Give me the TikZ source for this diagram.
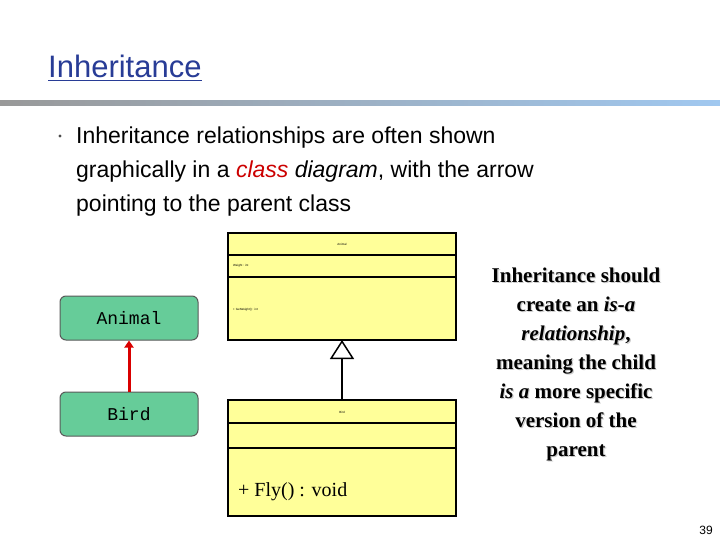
\documentclass[tikz,border=0pt]{standalone}
\usepackage{fontspec}
\setmainfont{Liberation Sans}
\newfontfamily\serifb{Liberation Serif}
\newfontfamily\monof{Liberation Mono}
\usetikzlibrary{arrows.meta}
\definecolor{titleblue}{RGB}{40,60,150}
\definecolor{umlyel}{RGB}{255,255,153}
\definecolor{grn}{RGB}{102,204,153}
\definecolor{lblue}{RGB}{160,200,240}
\tikzset{
  umlbox/.style={draw=black,line width=1.5pt,fill=umlyel},
  grnbox/.style={draw=gray!70!black,line width=1pt,fill=grn,rounded corners=6pt,minimum width=138pt,minimum height=44pt,font=\monof\fontsize{18}{18}\selectfont},
  tiny/.style={font=\fontsize{3}{3}\selectfont,inner sep=0pt},
  rtext/.style={align=center,font=\serifb\bfseries\fontsize{21}{29}\selectfont}
}
\newcommand\rtcontent{Inheritance should\\create an \textit{is-a}\\\textit{relationship},\\meaning the child\\\textit{is a} more specific\\version of the\\parent}
\begin{document}
\begin{tikzpicture}[x=1pt,y=-1pt]
\useasboundingbox (0,0) rectangle (720,540);
\fill[white] (0,0) rectangle (720,540);
\node[anchor=base west,inner sep=0pt,text=titleblue,font=\fontsize{31}{31}\selectfont] (title) at (48,78) {\underline{Inheritance}};
\shade[left color=gray!80,right color=lblue] (0,101) rectangle (720,106);
\fill[gray!60!black] (60,136) circle (1.6pt);
\node[anchor=north west,inner sep=0pt,align=left,font=\fontsize{23}{34}\selectfont] (btext) at (76,127)
 {Inheritance relationships are often shown\\graphically in a \textcolor{red!80!black}{\itshape class} \textit{diagram}, with the arrow\\pointing to the parent class};
% UML Animal
\draw[umlbox] (228,233) rectangle (456,340);
\draw[line width=1.5pt] (228,255) -- (456,255) (228,277) -- (456,277);
\node[tiny] (ua) at (342,244) {Animal};
\node[tiny,anchor=west] (uw) at (233,266) {Weight : int};
\node[tiny,anchor=west] (ug) at (233,310) {+ GetWeight() : int};
% UML Bird
\draw[umlbox] (228,400) rectangle (456,516);
\draw[line width=1.5pt] (228,423) -- (456,423) (228,448) -- (456,448);
\node[tiny] (ub) at (342,412) {Bird};
\node[anchor=base west,inner sep=0pt,font=\serifb\fontsize{20}{20}\selectfont] (fly) at (238,496) {+ Fly() : void};
\coordinate (bt) at (342,400);
\coordinate (at) at (342,340);
\draw[line width=1.5pt,-{Triangle[open,length=19pt,width=24pt]}] (bt) -- (at);
% green boxes
\node[grnbox] (ga) at (129,318) {Animal};
\node[grnbox] (gb) at (129,414) {Bird};
\draw[red!85!black,line width=3pt,-{Triangle[length=7pt,width=9pt]}] (gb.north) -- (ga.south);
% right text with shadow
\node[rtext,text=gray!40] (rts) at (577.2,365.2) {\rtcontent};
\node[rtext] (rt) at (576,364) {\rtcontent};
\node[anchor=base east,inner sep=0pt,font=\fontsize{12}{12}\selectfont] (pg) at (713,534) {39};
\end{tikzpicture}
\end{document}
